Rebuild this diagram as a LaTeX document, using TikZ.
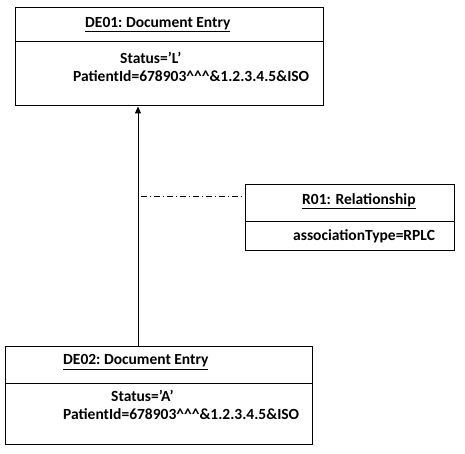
\documentclass[tikz,border=0pt]{standalone}
\usepackage{fontspec}
\setmainfont{Carlito}
\usetikzlibrary{positioning}
\usetikzlibrary{arrows.meta}
\usetikzlibrary{calc}

\begin{document}
\begin{tikzpicture}[x=1pt,y=-1pt,
    box/.style={draw, line width=1pt, inner sep=0pt},
    txt/.style={font=\bfseries\fontsize{15.5}{17}\selectfont, inner sep=0pt, anchor=west}]
        \useasboundingbox (0,0) rectangle (465,454);
		% Define the boxes
		\node[box, minimum width=308pt, minimum height=98pt] (de01) at (169,57) {};
		\node[box, minimum width=209pt, minimum height=65pt] (r01) at (349.5,217.5) {};
		\node[box, minimum width=307pt, minimum height=98pt] (de02) at (158.5,395) {};

        % Dividers
        \draw[line width=1pt] (15,42) -- (323,42);
        \draw[line width=1pt] (245,221) -- (454,221);
        \draw[line width=1pt] (5,383) -- (313,383);

        % Texts
        \node[txt] (de01t) at (85,25) {\underline{DE01:\ Document Entry}};
        \node[txt] (de01s) at (120,58) {Status=’L’};
        \node[txt] (de01p) at (73,76) {PatientId=678903\string^\string^\string^\&1.2.3.4.5\&ISO};
        \node[txt] (r01t) at (302,201) {\underline{R01: Relationship}};
        \node[txt] (r01a) at (293,236) {associationType=RPLC};
        \node[txt] (de02t) at (63,362) {\underline{DE02:\ Document Entry}};
        \node[txt] (de02s) at (111,396) {Status=’A’};
        \node[txt] (de02p) at (63,414) {PatientId=678903\string^\string^\string^\&1.2.3.4.5\&ISO};

        % Draw the lines
        \coordinate (up) at (138,346);
        \coordinate (lk) at (141,196);
        \draw[-{Triangle[length=7pt,width=6pt]}, line width=1pt] (up) -- (up |- de01.south);
        \draw[dash pattern=on 6pt off 3pt on 1pt off 3pt, line width=0.7pt] (lk) -- (lk -| r01.west);
     \end{tikzpicture}
\end{document}
